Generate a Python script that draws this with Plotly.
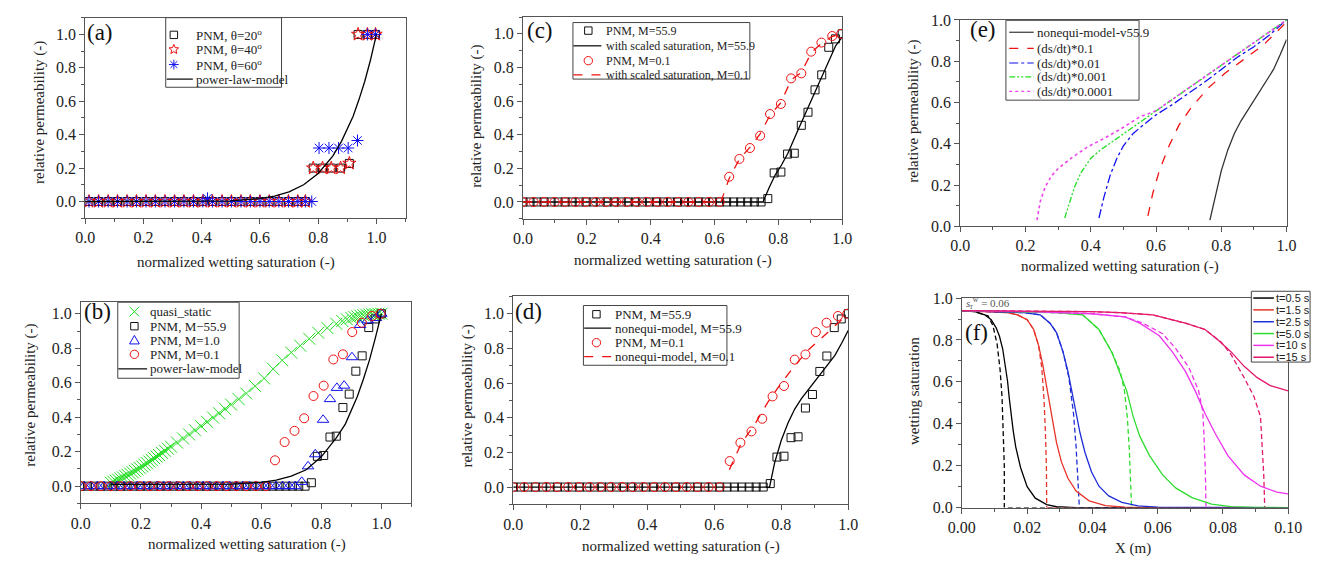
import math
import plotly.graph_objects as go

W, H = 1327, 568
SERIF = "Liberation Serif, Times New Roman, serif"

# ---------------- Panel (a) data ----------------
a_sq_x = [0.013,0.046,0.079,0.111,0.144,0.176,0.209,0.241,0.274,0.307,0.339,0.372,0.404,0.437,0.470,0.502,0.535,0.567,0.600,0.632,0.665,0.698,0.730,0.756,0.783,0.815,0.845,0.877,0.907,0.937,0.969,0.997]
a_sq_y = [0,0,0,0,0,0,0,0,0,0,0,0,0,0,0,0,0,0,0,0,0,0,0,0,0.2,0.2,0.2,0.2,0.228,1.0,1.0,1.0]
a_st_x = [0.013,0.046,0.079,0.111,0.144,0.176,0.209,0.241,0.274,0.307,0.339,0.372,0.404,0.437,0.470,0.502,0.535,0.567,0.600,0.632,0.665,0.698,0.730,0.756,0.783,0.815,0.845,0.877,0.907,0.937,0.969,0.997]
a_st_y = [0,0,0,0,0,0,0,0,0,0,0,0,0,0,0,0,0,0,0,0,0,0,0,0,0.2,0.2,0.2,0.2,0.228,1.0,1.0,1.0]
a_as_x = [0.013,0.046,0.079,0.111,0.144,0.176,0.209,0.241,0.274,0.307,0.339,0.372,0.404,0.420,0.437,0.470,0.502,0.535,0.567,0.600,0.632,0.665,0.698,0.730,0.756,0.778,0.803,0.837,0.870,0.903,0.935,0.969,0.997]
a_as_y = [0,0,0,0,0,0,0,0,0,0,0,0,0,0.019,0,0,0,0,0,0,0,0,0,0,0,0,0.32,0.32,0.32,0.32,0.365,1.0,1.0]
a_pl_x = [0.0,0.3,0.5,0.6,0.65,0.7,0.75,0.8,0.85,0.88,0.9,0.92,0.94,0.96,0.98,1.0]
a_pl_y = [0.0,0.0001,0.004,0.017,0.032,0.058,0.10,0.168,0.272,0.36,0.43,0.51,0.61,0.72,0.85,1.0]

# ---------------- shared PNM data (b, c, d) ----------------
m559_x = [0.00,0.022,0.044,0.066,0.088,0.110,0.132,0.154,0.176,0.198,0.220,0.242,0.264,0.286,0.308,0.330,0.352,0.374,0.396,0.418,0.440,0.462,0.484,0.506,0.528,0.550,0.572,0.594,0.616,0.638,0.660,0.682,0.704,0.725,0.746,
          0.767,0.787,0.808,0.829,0.850,0.872,0.893,0.915,0.936,0.958,0.979,1.0]
m559_y = [0,0,0,0,0,0,0,0,0,0,0,0,0,0,0,0,0,0,0,0,0,0,0,0,0,0,0,0,0,0,0,0,0,0,0,
          0.02,0.173,0.178,0.285,0.29,0.456,0.534,0.667,0.756,0.92,0.97,1.0]
m01_x = [0.0,0.033,0.066,0.099,0.131,0.164,0.196,0.228,0.260,0.292,0.325,0.357,0.389,0.421,0.453,0.486,0.518,0.550,0.583,0.616,
         0.646,0.678,0.711,0.743,0.774,0.808,0.840,0.872,0.903,0.935,0.969,0.997]
m01_y = [0,0,0,0,0,0,0,0,0,0,0,0,0,0,0,0,0,0,0,0,
         0.15,0.256,0.321,0.394,0.523,0.583,0.735,0.765,0.894,0.948,0.987,1.0]
m10_x = [0.011,0.033,0.055,0.077,0.099,0.121,0.143,0.165,0.187,0.209,0.231,0.253,0.275,0.297,0.319,0.341,0.363,0.385,0.407,0.429,0.451,0.473,0.495,0.517,0.539,0.561,0.583,0.605,0.627,0.649,0.671,0.693,0.713,
         0.735,0.756,0.780,0.806,0.829,0.852,0.876,0.902,0.929,0.955,0.982,1.0]
m10_y = [0,0,0,0,0,0,0,0,0,0,0,0,0,0,0,0,0,0,0,0,0,0,0,0,0,0,0,0,0,0,0,0,0,
         0.025,0.115,0.185,0.385,0.505,0.57,0.583,0.748,0.935,0.962,0.975,1.0]

# ---------------- Panel (b) ----------------
qs_x = [0.100,0.108,0.116,0.124,0.132,0.140,0.148,0.156,0.164,0.172,0.180,0.188,0.196,0.204,0.212,0.220,0.228,0.236,0.244,0.252,0.260,0.270,0.280,0.290,0.300,
        0.320,0.340,0.360,0.380,0.400,0.420,0.440,0.460,0.480,0.500,0.525,0.550,
        0.580,0.610,0.640,0.670,0.700,0.730,0.760,0.790,0.820,0.850,
        0.870,0.885,0.900,0.910,0.920,0.930,0.940,0.950,0.960,0.970,0.980,0.990,1.000]
qs_y = [0.020,0.026,0.032,0.038,0.045,0.051,0.058,0.065,0.073,0.081,0.089,0.097,0.106,0.115,0.124,0.133,0.143,0.152,0.162,0.172,0.181,0.193,0.205,0.217,0.229,
        0.253,0.277,0.300,0.324,0.348,0.373,0.398,0.423,0.448,0.473,0.505,0.538,
        0.580,0.625,0.680,0.730,0.775,0.815,0.855,0.890,0.918,0.942,
        0.958,0.968,0.976,0.981,0.985,0.989,0.992,0.994,0.996,0.998,0.999,1.000,1.000]
b_pl_x = [0.1,0.3,0.5,0.6,0.65,0.7,0.75,0.8,0.85,0.88,0.9,0.92,0.94,0.96,0.98,1.0]
b_pl_y = [0.01,0.01,0.012,0.022,0.035,0.058,0.095,0.17,0.28,0.36,0.44,0.52,0.62,0.73,0.86,1.0]

# ---------------- Panel (c) ----------------
c_blk_x = [0.0,0.752,0.77,0.79,0.81,0.83,0.86,0.89,0.92,0.95,0.98,1.0]
c_blk_y = [0.0,0.0,0.08,0.16,0.22,0.29,0.42,0.55,0.68,0.81,0.93,0.98]
c_red_x = [0.0,0.62,0.646,0.678,0.711,0.743,0.775,0.808,0.84,0.872,0.904,0.936,0.969,1.0]
c_red_y = [0.0,0.0,0.14,0.255,0.325,0.405,0.52,0.59,0.725,0.77,0.89,0.945,0.985,1.0]

# ---------------- Panel (d) ----------------
d_blk_x = [0.0,0.765,0.78,0.80,0.82,0.84,0.86,0.88,0.90,0.92,0.94,0.96,0.98,1.0]
d_blk_y = [0.0,0.0,0.14,0.27,0.37,0.45,0.51,0.56,0.61,0.66,0.71,0.76,0.83,0.905]
d_red_x = [0.645,0.68,0.72,0.76,0.80,0.84,0.88,0.92,0.96,1.0]
d_red_y = [0.1,0.25,0.36,0.49,0.6,0.7,0.79,0.86,0.93,1.0]

# ---------------- Panel (e) ----------------
e_blk_x = [0.765,0.78,0.80,0.82,0.84,0.86,0.88,0.90,0.92,0.94,0.96,0.98,1.0]
e_blk_y = [0.03,0.14,0.27,0.37,0.45,0.51,0.56,0.61,0.66,0.71,0.76,0.83,0.905]
e_red_x = [0.575,0.59,0.61,0.64,0.67,0.71,0.76,0.81,0.87,0.93,1.0]
e_red_y = [0.05,0.16,0.27,0.39,0.49,0.58,0.67,0.74,0.81,0.88,0.99]
e_blu_x = [0.425,0.44,0.46,0.48,0.50,0.53,0.56,0.60,0.65,0.70,0.75,0.80,0.85,0.90,0.95,1.0]
e_blu_y = [0.04,0.14,0.25,0.33,0.39,0.45,0.49,0.54,0.59,0.645,0.70,0.76,0.82,0.87,0.93,1.0]
e_grn_x = [0.32,0.335,0.35,0.37,0.40,0.43,0.47,0.52,0.60,0.70,0.80,0.90,1.0]
e_grn_y = [0.04,0.12,0.19,0.26,0.33,0.37,0.415,0.47,0.56,0.67,0.78,0.89,1.0]
e_mag_x = [0.235,0.245,0.26,0.28,0.30,0.34,0.39,0.44,0.49,0.55,0.60,0.70,0.80,0.90,1.0]
e_mag_y = [0.03,0.12,0.19,0.245,0.28,0.33,0.385,0.425,0.47,0.53,0.56,0.67,0.78,0.89,1.0]

# ---------------- Panel (f) ----------------
f_labels = ["t=0.5 s","t=1.5 s","t=2.5 s","t=5.0 s","t=10 s","t=15 s"]
f_colors = ["#000000","#e8332a","#1f2fd6","#2fdc2f","#ee33ee","#e3196c"]
f_sol_x = [
    [0,0.004,0.007,0.009,0.0105,0.0115,0.0125,0.0133,0.014,0.0145,0.015,0.0157,0.0165,0.018,0.020,0.0225,0.026,0.029,0.035,0.1],
    [0,0.008,0.014,0.017,0.020,0.022,0.0235,0.0248,0.0258,0.0268,0.0278,0.029,0.0305,0.0325,0.035,0.039,0.044,0.05,0.06,0.1],
    [0,0.01,0.019,0.024,0.027,0.029,0.031,0.0325,0.0337,0.035,0.0362,0.0377,0.0397,0.042,0.045,0.049,0.054,0.06,0.1],
    [0,0.02,0.029,0.037,0.042,0.046,0.049,0.0505,0.0525,0.0545,0.0575,0.0615,0.0655,0.0705,0.0765,0.0825,0.09,0.1],
    [0,0.02,0.04,0.05,0.0545,0.0605,0.0645,0.0685,0.0715,0.0745,0.0775,0.0815,0.0865,0.0915,0.0965,0.1],
    [0,0.02,0.04,0.0485,0.0585,0.0685,0.0745,0.0785,0.0825,0.0865,0.0905,0.0945,0.1],
]
f_sol_y = [
    [0.94,0.935,0.92,0.897,0.858,0.819,0.758,0.681,0.603,0.526,0.449,0.37,0.29,0.19,0.10,0.045,0.014,0.004,0,0],
    [0.94,0.935,0.93,0.92,0.897,0.85,0.774,0.681,0.588,0.496,0.403,0.31,0.218,0.14,0.079,0.032,0.009,0.002,0,0],
    [0.94,0.935,0.93,0.92,0.88,0.835,0.743,0.65,0.557,0.449,0.357,0.264,0.171,0.102,0.056,0.025,0.008,0.002,0],
    [0.94,0.935,0.93,0.92,0.85,0.74,0.62,0.557,0.434,0.341,0.248,0.156,0.094,0.048,0.017,0.005,0.001,0],
    [0.94,0.935,0.925,0.91,0.88,0.82,0.743,0.65,0.557,0.449,0.357,0.248,0.156,0.102,0.074,0.065],
    [0.94,0.938,0.935,0.93,0.92,0.88,0.85,0.80,0.743,0.674,0.62,0.582,0.557],
]
f_dsh_x = [
    [0,0.004,0.008,0.0095,0.0108,0.0117,0.0123,0.0127,0.013,0.013,0.1],
    [0,0.008,0.014,0.017,0.020,0.022,0.0235,0.0245,0.0252,0.0256,0.0259,0.026,0.1],
    [0,0.01,0.019,0.024,0.027,0.029,0.031,0.0328,0.0342,0.0350,0.0355,0.0358,0.036,0.1],
    [0,0.02,0.029,0.037,0.042,0.046,0.0485,0.0498,0.0507,0.0513,0.0517,0.052,0.1],
    [0,0.02,0.04,0.05,0.0555,0.0615,0.0655,0.0695,0.0725,0.0738,0.0742,0.0746,0.0748,0.1],
    [0,0.02,0.04,0.0485,0.0585,0.0685,0.0745,0.0795,0.0825,0.0865,0.0895,0.0915,0.092,0.0925,0.0928,0.1],
]
f_dsh_y = [
    [0.94,0.935,0.915,0.87,0.78,0.66,0.53,0.38,0.2,0.0,0.0],
    [0.94,0.935,0.93,0.92,0.897,0.85,0.774,0.666,0.51,0.357,0.2,0.0,0.0],
    [0.94,0.935,0.93,0.92,0.88,0.835,0.743,0.62,0.45,0.29,0.13,0.02,0,0],
    [0.94,0.935,0.93,0.92,0.85,0.74,0.65,0.56,0.43,0.28,0.125,0.0,0.0],
    [0.94,0.935,0.925,0.91,0.88,0.83,0.76,0.67,0.56,0.46,0.34,0.18,0.0,0.0],
    [0.94,0.938,0.935,0.93,0.92,0.88,0.85,0.789,0.73,0.62,0.53,0.434,0.31,0.156,0.0,0.0],
]

# ---------------- colours / styles ----------------
BLK, RED, BLU, GRN, MAG = "#111111", "#ee1111", "#1111ee", "#22dd22", "#ee44ee"
DASH2DOT = "6px,2px,2px,2px,2px,2px"

def px2fx(p): return p / W
def py2fy(p): return 1 - p / H

fig = go.Figure()

def mk(x, y, name, sym, color, size, xa, ya):
    fig.add_trace(go.Scatter(x=x, y=y, mode="markers", name=name, xaxis=xa, yaxis=ya, showlegend=False,
                             marker=dict(symbol=sym, size=size, color=color,
                                         line=dict(width=1, color=color))))

def ln(x, y, name, color, dash, xa, ya, width=1.3):
    fig.add_trace(go.Scatter(x=x, y=y, mode="lines", name=name, xaxis=xa, yaxis=ya, showlegend=False,
                             line=dict(color=color, dash=dash, width=width)))

# (a)
mk(a_sq_x, a_sq_y, "PNM, θ=20°", "square-open", BLK, 8, "x", "y")
mk(a_st_x, a_st_y, "PNM, θ=40°", "star-open", RED, 10, "x", "y")
mk(a_as_x, a_as_y, "PNM, θ=60°", "asterisk-open", BLU, 10, "x", "y")
ln(a_pl_x, a_pl_y, "power-law-model", "#000000", "solid", "x", "y")
# (b)
mk(qs_x, qs_y, "quasi_static", "x-thin-open", GRN, 12, "x2", "y2")
mk(m559_x, m559_y, "PNM, M−55.9", "square-open", BLK, 8, "x2", "y2")
mk(m10_x, m10_y, "PNM, M=1.0", "triangle-up-open", BLU, 10, "x2", "y2")
mk(m01_x, m01_y, "PNM, M=0.1", "circle-open", RED, 9, "x2", "y2")
ln(b_pl_x, b_pl_y, "power-law-model", "#000000", "solid", "x2", "y2")
# (c)
mk(m559_x, m559_y, "PNM, M=55.9", "square-open", BLK, 8, "x3", "y3")
ln(c_blk_x, c_blk_y, "with scaled saturation, M=55.9", "#000000", "solid", "x3", "y3")
mk(m01_x, m01_y, "PNM, M=0.1", "circle-open", RED, 9, "x3", "y3")
ln(c_red_x, c_red_y, "with scaled saturation, M=0.1", RED, "dash", "x3", "y3")
# (d)
mk(m559_x, m559_y, "PNM, M=55.9", "square-open", BLK, 8, "x4", "y4")
ln(d_blk_x, d_blk_y, "nonequi-model, M=55.9", "#000000", "solid", "x4", "y4")
mk(m01_x, m01_y, "PNM, M=0.1", "circle-open", RED, 9, "x4", "y4")
ln(d_red_x, d_red_y, "nonequi-model, M=0.1", RED, "dash", "x4", "y4")
# (e)
ln(e_blk_x, e_blk_y, "nonequi-model-v55.9", "#333333", "solid", "x5", "y5")
ln(e_red_x, e_red_y, "(ds/dt)*0.1", RED, "dash", "x5", "y5")
ln(e_blu_x, e_blu_y, "(ds/dt)*0.01", BLU, "dashdot", "x5", "y5")
ln(e_grn_x, e_grn_y, "(ds/dt)*0.001", GRN, DASH2DOT, "x5", "y5")
ln(e_mag_x, e_mag_y, "(ds/dt)*0.0001", MAG, "dot", "x5", "y5", width=1.6)
# (f)
for i in range(6):
    ln(f_dsh_x[i], f_dsh_y[i], f_labels[i], f_colors[i], "5px,3px", "x6", "y6")
for i in range(6):
    ln(f_sol_x[i], f_sol_y[i], f_labels[i], f_colors[i], "solid", "x6", "y6")

# ---------------- axes ----------------
tickfont = dict(family=SERIF, size=16, color="#222")

def xax(dom, rng, dtick, mdt, anchor, fmt=".1f"):
    return dict(domain=dom, range=rng, anchor=anchor, dtick=dtick, tick0=0, tickformat=fmt,
                showline=True, linecolor="#555", linewidth=1, mirror=True,
                ticks="outside", ticklen=5, tickcolor="#555", showgrid=False, zeroline=False,
                tickfont=tickfont,
                minor=dict(ticks="outside", ticklen=3, dtick=mdt, tick0=0, tickcolor="#555", showgrid=False))

def yax(dom, rng, anchor):
    return dict(domain=dom, range=rng, anchor=anchor, dtick=0.2, tick0=0, tickformat=".1f",
                showline=True, linecolor="#555", linewidth=1, mirror=True,
                ticks="outside", ticklen=5, tickcolor="#555", showgrid=False, zeroline=False,
                tickfont=tickfont,
                minor=dict(ticks="outside", ticklen=3, dtick=0.1, tick0=0, tickcolor="#555", showgrid=False))

dom = {
    "a": ([px2fx(72.7), px2fx(400)], [py2fy(216.7), py2fy(10)]),
    "b": ([px2fx(68.3), px2fx(406)], [py2fy(510.7), py2fy(303.3)]),
    "c": ([px2fx(520), px2fx(846)], [py2fy(217.3), py2fy(9.3)]),
    "d": ([px2fx(510), px2fx(852.3)], [py2fy(511.7), py2fy(297.3)]),
    "e": ([px2fx(966.7), px2fx(1300)], [py2fy(225), py2fy(12.3)]),
    "f": ([px2fx(968.3), px2fx(1301.7)], [py2fy(515), py2fy(299)]),
}

fig.update_layout(
    width=W, height=H, margin=dict(l=0, r=0, t=0, b=0), autosize=False,
    paper_bgcolor="white", plot_bgcolor="white", showlegend=False,
    xaxis=xax(dom["a"][0], [0, 1.1], 0.2, 0.1, "y"),
    yaxis=yax(dom["a"][1], [-0.1, 1.1], "x"),
    xaxis2=xax(dom["b"][0], [0, 1.1], 0.2, 0.1, "y2"),
    yaxis2=yax(dom["b"][1], [-0.1, 1.067], "x2"),
    xaxis3=xax(dom["c"][0], [0, 1.0], 0.2, 0.1, "y3"),
    yaxis3=yax(dom["c"][1], [-0.1, 1.1], "x3"),
    xaxis4=xax(dom["d"][0], [0, 1.0], 0.2, 0.1, "y4"),
    yaxis4=yax(dom["d"][1], [-0.1, 1.1], "x4"),
    xaxis5=xax(dom["e"][0], [0, 1.0], 0.2, 0.1, "y5"),
    yaxis5=yax(dom["e"][1], [0, 1.0], "x5"),
    xaxis6=xax(dom["f"][0], [0, 0.1], 0.02, 0.01, "y6", fmt=".2f"),
    yaxis6=yax(dom["f"][1], [0, 1.0], "x6"),
)

def text(x, y, s, size, family=SERIF, color="#222", xanchor="center", angle=0):
    fig.add_annotation(x=px2fx(x), y=py2fy(y), xref="paper", yref="paper", text=s,
                       showarrow=False, xanchor=xanchor, yanchor="middle", textangle=angle,
                       borderpad=0, font=dict(family=family, size=size, color=color))

# axis titles
XT = "normalized wetting saturation (-)"
YT = "relative permeability (-)"
for (x, y) in [(227, 262), (238, 553), (673, 260), (681, 555), (1130, 266)]:
    text(x, y, XT, 15)
text(1143, 557, "X (m)", 15)
for (x, y) in [(26.7, 108), (16, 399), (473, 112), (463.3, 400), (919.3, 106)]:
    text(x, y, YT, 15, angle=-90)
text(919.3, 395, "wetting saturation", 15, angle=-90)

# panel labels
for lab, (x, y) in {"(a)": (88, 25), "(b)": (85, 313), "(c)": (537, 23),
                    "(d)": (526, 313), "(e)": (990, 22), "(f)": (983, 335)}.items():
    text(x, y, lab, 23, color="#111")

# s_r^w annotation in (f)
text(971, 304, "<i>s</i><sub>r</sub><sup>w</sup> = 0.06", 11, color="#555", xanchor="left")

# ---------------- hand-built legends (paper-space shapes + text) ----------------
def P(x, y): return f"{px2fx(x):.5f},{py2fy(y):.5f}"

def shp(**kw):
    fig.add_shape(xref="paper", yref="paper", layer="above", **kw)

def seg(x0, y0, x1, y1, color, dash="solid", w=1.2):
    shp(type="line", x0=px2fx(x0), x1=px2fx(x1), y0=py2fy(y0), y1=py2fy(y1),
        line=dict(color=color, width=w, dash=dash))

def glyph(kind, cx, cy, color):
    if kind == "sq":
        r = 3.8
        shp(type="rect", x0=px2fx(cx-r), x1=px2fx(cx+r), y0=py2fy(cy+r), y1=py2fy(cy-r),
            line=dict(color=color, width=1))
    elif kind == "ci":
        r = 4.3
        shp(type="circle", x0=px2fx(cx-r), x1=px2fx(cx+r), y0=py2fy(cy+r), y1=py2fy(cy-r),
            line=dict(color=color, width=1))
    elif kind == "tri":
        p = f"M {P(cx, cy-5)} L {P(cx+5, cy+3.8)} L {P(cx-5, cy+3.8)} Z"
        shp(type="path", path=p, line=dict(color=color, width=1))
    elif kind == "star":
        pts = []
        for k in range(10):
            ang = -math.pi/2 + k*math.pi/5
            rr = 5.2 if k % 2 == 0 else 2.3
            pts.append(P(cx + rr*math.cos(ang), cy + rr*math.sin(ang)))
        shp(type="path", path="M " + " L ".join(pts) + " Z", line=dict(color=color, width=1))
    elif kind == "ast":
        for ang in (0, 45, 90, 135):
            dx, dy = 5*math.cos(math.radians(ang)), 5*math.sin(math.radians(ang))
            seg(cx-dx, cy-dy, cx+dx, cy+dy, color, w=1)
    elif kind == "x":
        seg(cx-5, cy-5, cx+5, cy+5, color, w=1)
        seg(cx-5, cy+5, cx+5, cy-5, color, w=1)

def legend_box(box, rows, mx, lx, tx, fs, entries, family=SERIF, lw=1.2):
    x0, y0, x1, y1 = box
    shp(type="rect", x0=px2fx(x0), x1=px2fx(x1), y0=py2fy(y1), y1=py2fy(y0),
        line=dict(color="#444", width=1), fillcolor="white")
    for yy, (kind, color, dash, label) in zip(rows, entries):
        if kind == "line":
            seg(lx[0], yy, lx[1], yy, color, dash, w=lw)
        else:
            glyph(kind, mx, yy, color)
        text(tx, yy, label, fs, family=family, color="#222", xanchor="left")

legend_box((155, 10, 273.3, 81.7), [27.7, 42.7, 58.3, 73.3], 163.3, (156, 182.7), 185, 13,
           [("sq", BLK, "", "PNM, θ=20<sup>o</sup>"), ("star", RED, "", "PNM, θ=40<sup>o</sup>"),
            ("ast", BLU, "", "PNM, θ=60<sup>o</sup>"), ("line", "#000", "solid", "power-law-model")])
legend_box((106, 303.3, 230, 381.7), [313, 328, 342.5, 357, 372], 123, (106.5, 136), 138, 13,
           [("x", GRN, "", "quasi_static"), ("sq", BLK, "", "PNM, M−55.9"),
            ("tri", BLU, "", "PNM, M=1.0"), ("ci", RED, "", "PNM, M=0.1"),
            ("line", "#000", "solid", "power-law-model")])
legend_box((571, 15, 751.7, 73.3), [23.3, 39, 54.3, 69], 586.7, (571.5, 600), 603.3, 12,
           [("sq", BLK, "", "PNM, M=55.9"), ("line", "#000", "solid", "with scaled saturation, M=55.9"),
            ("ci", RED, "", "PNM, M=0.1"), ("line", RED, "dash", "with scaled saturation, M=0.1")])
legend_box((581.7, 306.7, 728.3, 368.3), [315.7, 330, 345, 359.3], 595, (582.5, 610), 613.3, 13,
           [("sq", BLK, "", "PNM, M=55.9"), ("line", "#000", "solid", "nonequi-model, M=55.9"),
            ("ci", RED, "", "PNM, M=0.1"), ("line", RED, "dash", "nonequi-model, M=0.1")])
legend_box((1013.3, 12.7, 1149.3, 95), [25, 41.7, 56.7, 71, 86], 0, (1016.7, 1041.7), 1044, 13,
           [("line", "#333", "solid", "nonequi-model-v55.9"), ("line", RED, "dash", "(ds/dt)*0.1"),
            ("line", BLU, "dashdot", "(ds/dt)*0.01"), ("line", GRN, DASH2DOT, "(ds/dt)*0.001"),
            ("line", MAG, "dot", "(ds/dt)*0.0001")])
legend_box((1264, 292, 1324, 365), [299 + i*12.2 for i in range(6)], 0, (1266, 1287), 1288, 11,
           [("line", c, "solid", l) for l, c in zip(f_labels, f_colors)],
           family="Liberation Sans, Arial, sans-serif", lw=1.5)

fig.write_html("out.html")
